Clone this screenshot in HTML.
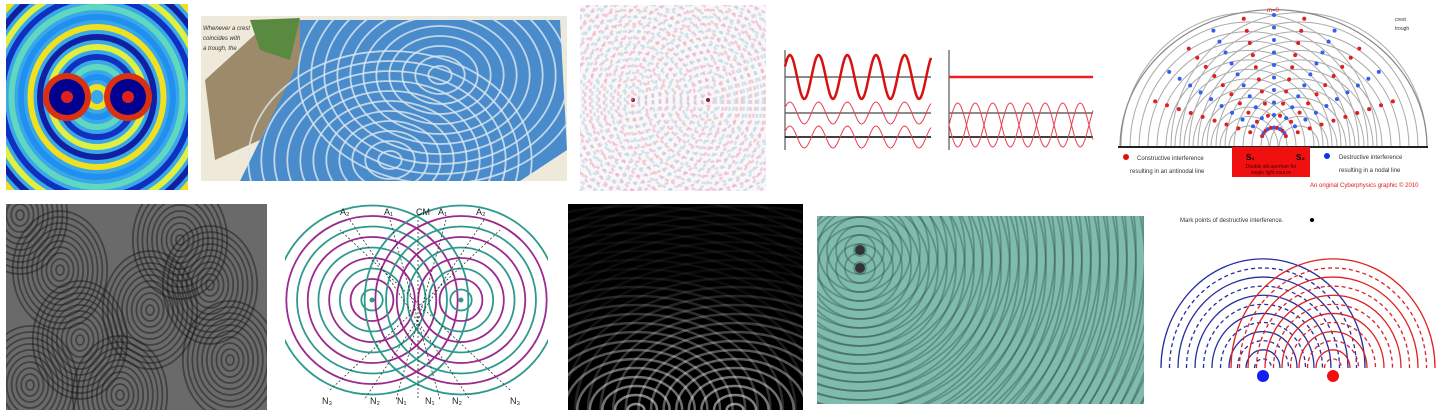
<!DOCTYPE html>
<html><head><meta charset="utf-8"><style>
html,body{margin:0;padding:0;background:#fff;width:1446px;height:420px;overflow:hidden}
svg{display:block;position:absolute;left:0;top:0}
text{font-family:"Liberation Sans",sans-serif}
</style></head><body>
<svg id="s" width="1446" height="420" viewBox="0 0 1446 420">
<defs>
<clipPath id="c1"><rect x="6" y="4" width="182" height="186"/></clipPath>
<clipPath id="c2"><rect x="201" y="16" width="366" height="165"/></clipPath>
<clipPath id="c3"><rect x="580" y="5" width="186" height="186"/></clipPath>
<clipPath id="c5"><rect x="1110" y="0" width="336" height="200"/></clipPath>
<clipPath id="c6"><rect x="6" y="204" width="261" height="206"/></clipPath>
<clipPath id="c7"><rect x="285" y="204" width="263" height="206"/></clipPath>
<clipPath id="c8"><rect x="568" y="204" width="235" height="206"/></clipPath>
<clipPath id="c9"><rect x="817" y="216" width="327" height="188"/></clipPath>
</defs>
<g id="g1" clip-path="url(#c1)"><rect x="6" y="4" width="182" height="186" fill="#3aa8e8"/></g>
<g id="g2" clip-path="url(#c2)">
<rect x="201" y="16" width="366" height="165" fill="#efe9da"/>
<path d="M300,20 L560,20 L567,150 L520,181 L240,181 L270,120 Z" fill="#4a8ccb"/>
<path d="M205,80 L260,30 L300,20 L300,60 L260,140 L215,160 Z" fill="#9c8a6a"/>
<path d="M250,20 L300,18 L290,60 L260,50 Z" fill="#5a8a40"/>
<text x="203" y="30" font-size="6" font-style="italic" fill="#333">Whenever a crest</text>
<text x="203" y="40" font-size="6" font-style="italic" fill="#333">coincides with</text>
<text x="203" y="50" font-size="6" font-style="italic" fill="#333">a trough, the</text>
</g>
<g id="g3" clip-path="url(#c3)"><rect x="580" y="5" width="186" height="186" fill="#fbf6f8"/></g>
<g id="g4"></g>
<g id="g5" clip-path="url(#c5)"></g>
<g id="g6" clip-path="url(#c6)"><rect x="6" y="204" width="261" height="206" fill="#6a6a6a"/></g>
<g id="g7" clip-path="url(#c7)"><rect x="285" y="204" width="263" height="206" fill="#fff"/></g>
<g id="g8" clip-path="url(#c8)"><rect x="568" y="204" width="235" height="206" fill="#000"/></g>
<g id="g9" clip-path="url(#c9)"><rect x="817" y="216" width="327" height="188" fill="#7fbcae"/></g>
<g id="g10"></g>
</svg>
<script>
const NS="http://www.w3.org/2000/svg";
function mk(p,t,a){const e=document.createElementNS(NS,t);for(const k in a)e.setAttribute(k,a[k]);p.appendChild(e);return e;}
const g=id=>document.getElementById(id);
// img1
const cols1=["#1020a0","#f0e020","#2090f0","#60d8c0","#1030c0","#e0f040"];
for(let r=150;r>0;r-=10){const c=mk(g('g1'),'ellipse',{cx:97,cy:97,rx:r*0.95,ry:r,fill:'none',stroke:cols1[(r/10)%6],'stroke-width':6});}
[67,128].forEach(x=>{mk(g('g1'),'circle',{cx:x,cy:97,r:24,fill:'#d83010'});mk(g('g1'),'circle',{cx:x,cy:97,r:18,fill:'#000090'});mk(g('g1'),'circle',{cx:x,cy:97,r:6,fill:'#e02020'});});
// img2
[[440,75],[390,160]].forEach(([x,y])=>{for(let r=9;r<110;r+=10){mk(g('g2'),'ellipse',{cx:x,cy:y,rx:r*1.3,ry:r,fill:'none',stroke:'#dde8f0','stroke-width':1.8,opacity:0.8});}});
// img3
[[633,100],[708,100]].forEach(([x,y],i)=>{for(let r=6;r<160;r+=7){mk(g('g3'),'circle',{cx:x,cy:y,r:r,fill:'none',stroke:(r/7)%2<1?'#e0a8b8':'#a8d0e0','stroke-width':2.5,'stroke-dasharray':'4 3',opacity:0.5});}
mk(g('g3'),'circle',{cx:x,cy:y,r:2,fill:'#802040'});});
// img4
function sine(p,x0,x1,y0,a,per,ph,w,col){let d='';for(let x=x0;x<=x1;x++){d+=(x==x0?'M':'L')+x+','+(y0-a*Math.sin((x-x0)/per*2*Math.PI+ph)).toFixed(1);}mk(p,'path',{d:d,fill:'none',stroke:col,'stroke-width':w});}
const g4=g('g4');
mk(g4,'line',{x1:785,y1:50,x2:785,y2:150,stroke:'#333'});mk(g4,'line',{x1:949,y1:50,x2:949,y2:150,stroke:'#333'});
[[785,931,77,'#666'],[785,931,113,'#666'],[785,931,137,'#000'],[949,1093,113,'#666'],[949,1093,137,'#000']].forEach(l=>mk(g4,'line',{x1:l[0],y1:l[2],x2:l[1],y2:l[2],stroke:l[3],'stroke-width':1.5}));
sine(g4,785,931,77,22,28.7,0.5,2.5,'#d81010');
sine(g4,785,931,113,11,28.7,0.5,1,'#e84050');sine(g4,785,931,137,11,28.7,0.5,1,'#e84050');
mk(g4,'line',{x1:949,y1:77,x2:1093,y2:77,stroke:'#e82020','stroke-width':2.5});
sine(g4,949,1093,125,22,35,0,1,'#e84050');sine(g4,949,1093,125,22,35,Math.PI,1,'#e84050');
// img5
const g5=g('g5');
[1249,1299].forEach(cx=>{for(let r=20;r<=128;r+=9){mk(g5,'path',{d:`M${cx-r},147 A${r},${r*1.05} 0 0 1 ${cx+r},147`,fill:'none',stroke:'#aaa','stroke-width':1});}});
mk(g5,'path',{d:'M1120,147 A153,137 0 0 1 1427,147',fill:'none',stroke:'#888','stroke-width':1.2});
mk(g5,'line',{x1:1118,y1:147,x2:1428,y2:147,stroke:'#222','stroke-width':2});
const angs=[-72,-57,-43,-29,-14,0,14,29,43,57,72];
angs.forEach((a,i)=>{const col=i%2?'#3060f0':'#e02020';const rad=a*Math.PI/180;for(let k=1;k<=10;k++){const r=k*12.5;mk(g5,'line',{});mk(g5,'circle',{cx:1274+Math.sin(rad)*r,cy:140-Math.cos(rad)*r,r:2,fill:col});}});
mk(g5,'rect',{x:1232,y:147,width:78,height:30,fill:'#f01010'});
mk(g5,'text',{x:1246,y:160,'font-size':8,'font-weight':'bold',fill:'#000'}).textContent='S₁';
mk(g5,'text',{x:1296,y:160,'font-size':8,'font-weight':'bold',fill:'#000'}).textContent='S₂';
mk(g5,'text',{x:1271,y:168,'font-size':5,'text-anchor':'middle',fill:'#400'}).textContent='Double slit aperture for';
mk(g5,'text',{x:1271,y:174,'font-size':5,'text-anchor':'middle',fill:'#400'}).textContent='single light source';
mk(g5,'circle',{cx:1126,cy:157,r:3,fill:'#e01010'});mk(g5,'circle',{cx:1327,cy:156,r:3,fill:'#1030f0'});
mk(g5,'text',{x:1137,y:160,'font-size':6,fill:'#333'}).textContent='Constructive interference';
mk(g5,'text',{x:1130,y:173,'font-size':6,fill:'#333'}).textContent='resulting in an antinodal line';
mk(g5,'text',{x:1339,y:159,'font-size':6,fill:'#333'}).textContent='Destructive interference';
mk(g5,'text',{x:1339,y:172,'font-size':6,fill:'#333'}).textContent='resulting in a nodal line';
mk(g5,'text',{x:1310,y:187,'font-size':6,fill:'#e02020'}).textContent='An original Cyberphysics graphic © 2010';
mk(g5,'text',{x:1395,y:21,'font-size':5,fill:'#333'}).textContent='crest';
mk(g5,'text',{x:1395,y:30,'font-size':5,fill:'#333'}).textContent='trough';
mk(g5,'text',{x:1267,y:12,'font-size':6,fill:'#e02020'}).textContent='m=0';
// img6
const g6=g('g6');
[[20,215],[60,270],[180,240],[80,340],[150,310],[230,360],[30,385],[210,285],[120,395]].forEach(([x,y])=>{for(let r=5;r<60;r+=6){mk(g6,'ellipse',{cx:x,cy:y,rx:r*0.8,ry:r,fill:'none',stroke:'#111','stroke-width':1.8,opacity:0.45});}});
// img7
const g7=g('g7');
[372,461].forEach(cx=>{for(let k=1;k<=9;k++){const r=k*10.5;mk(g7,'ellipse',{cx:cx,cy:300,rx:r*1.02,ry:r,fill:'none',stroke:k%2?'#2e9a8e':'#9a2a8e','stroke-width':1.8});}mk(g7,'circle',{cx:cx,cy:300,r:2.5,fill:'#2e9a8e'});});
[[340,'A₂'],[384,'A₁'],[416,'CM'],[438,'A₁'],[476,'A₂']].forEach(([x,t])=>{mk(g7,'text',{x:x,y:215,'font-size':9,fill:'#222'}).textContent=t;});
[[322,'N₃'],[370,'N₂'],[397,'N₁'],[425,'N₁'],[452,'N₂'],[510,'N₃']].forEach(([x,t])=>{mk(g7,'text',{x:x,y:404,'font-size':9,fill:'#222'}).textContent=t;});
[[350,220,470,400],[390,220,440,400],[418,220,418,400],[446,220,396,400],[484,220,364,400],[330,390,500,230],[510,390,340,230]].forEach(l=>mk(g7,'line',{x1:l[0],y1:l[1],x2:l[2],y2:l[3],stroke:'#333','stroke-dasharray':'2 2','stroke-width':0.8}));
// img8
const g8=g('g8');
[636,735].forEach(cx=>{for(let r=6;r<230;r+=9){mk(g8,'ellipse',{cx:cx,cy:410,rx:r*1.4,ry:r,fill:'none',stroke:'#fff','stroke-width':2.5,opacity:Math.max(0.05,0.55-r/280)});}});
// img9
const g9=g('g9');
[[860,250],[860,268]].forEach(([x,y])=>{for(let r=6;r<340;r+=9){mk(g9,'circle',{cx:x,cy:y,r:r,fill:'none',stroke:'#1a2a28','stroke-width':1.8,opacity:0.3});}mk(g9,'circle',{cx:x,cy:y,r:5,fill:'#333'});});
// img10
const g10=g('g10');
mk(g10,'text',{x:1180,y:222,'font-size':6,fill:'#333'}).textContent='Mark points of destructive interference.';
mk(g10,'circle',{cx:1312,cy:220,r:2,fill:'#000'});
[[1263,'#2030a0'],[1333,'#e02020']].forEach(([cx,col])=>{for(let k=1;k<=12;k++){const r=k*8.5;mk(g10,'path',{d:`M${cx-r},368 A${r},${r*1.07} 0 0 1 ${cx+r},368`,fill:'none',stroke:col,'stroke-width':1.3,'stroke-dasharray':k%2?'4 3':'none'});}});
mk(g10,'circle',{cx:1263,cy:376,r:6,fill:'#1020f0'});mk(g10,'circle',{cx:1333,cy:376,r:6,fill:'#f01010'});
</script>
</body></html>
